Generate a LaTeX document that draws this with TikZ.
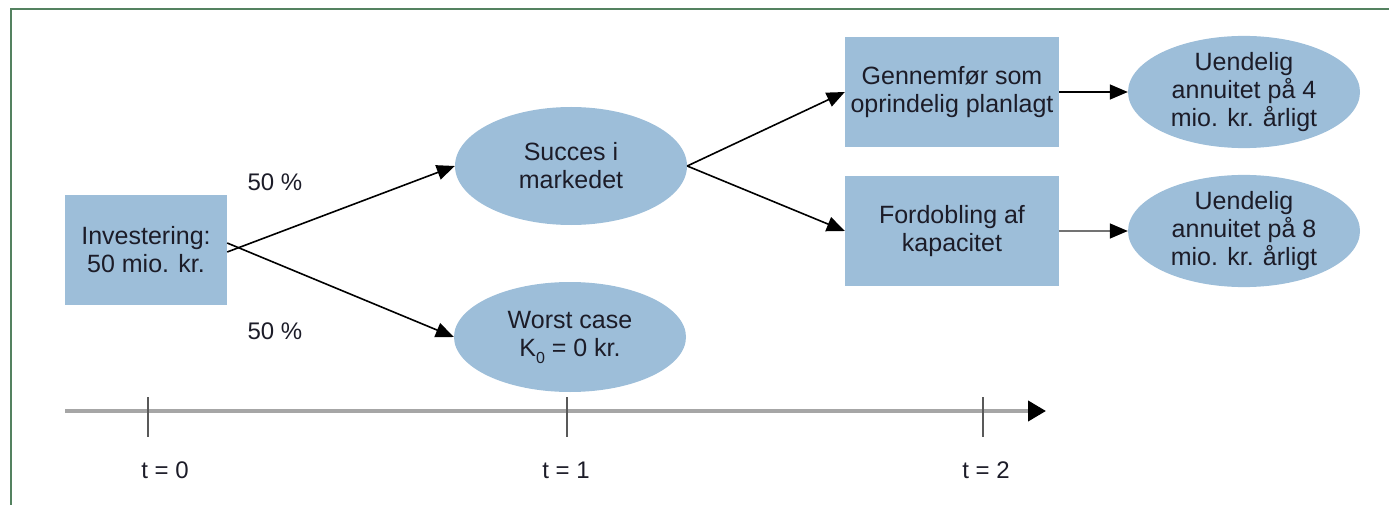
\documentclass[tikz,border=0pt]{standalone}
\usepackage{fontspec}
\setmainfont{Liberation Sans}
\usetikzlibrary{shapes.geometric,arrows.meta}
\definecolor{boxblue}{RGB}{157,190,217}
\definecolor{framegreen}{RGB}{84,130,96}
\definecolor{txt}{RGB}{28,28,40}
\definecolor{axisgrey}{RGB}{166,166,166}
\tikzset{
  lbl/.style={font=\fontsize{25}{28}\selectfont, text=txt, align=center, inner sep=0pt},
  rectbox/.style={lbl, rectangle, fill=boxblue, minimum width=#1, minimum height=110pt},
  ellbox/.style={lbl, ellipse, fill=boxblue, minimum width=232pt},
  conn/.style={line width=1.6pt, black, -{Triangle[length=18pt,width=15pt]}},
  tick/.style={line width=1.2pt, black!65},
}
\begin{document}
\begin{tikzpicture}[x=1pt,y=-1pt]
\useasboundingbox (0,0) rectangle (1389,505);
% frame
\draw[framegreen, line width=2pt] (11,506) -- (11,9) -- (1390,9);

% nodes
\node[rectbox=162pt] (inv) at (146,250) {Investering:\\ 50 mio. kr.};
\node[ellbox, minimum height=118pt] (succ) at (571,166) {Succes i\\markedet};
\node[ellbox, minimum height=110pt] (worst) at (570,337) {Worst case\\K\raisebox{-0.28em}{\fontsize{16}{16}\selectfont 0} = 0 kr.};
\node[rectbox=214pt] (genn) at (952,92) {Gennemfør som\\oprindelig planlagt};
\node[rectbox=214pt] (ford) at (952,231) {Fordobling af\\kapacitet};
\node[ellbox, minimum height=108pt] (ann4) at (1244,92) {Uendelig\\annuitet på 4\\mio. kr. årligt};
\node[ellbox, minimum height=110pt] (ann8) at (1244,231) {Uendelig\\annuitet på 8\\mio. kr. årligt};

% probability labels
\node[lbl, font=\fontsize{24}{28}\selectfont] (p1) at (275,182) {50 \%};
\node[lbl, font=\fontsize{24}{28}\selectfont] (p2) at (275,331) {50 \%};

% connectors
\draw[conn] ([yshift=-2pt]inv.east) -- (succ.west);
\draw[conn] ([yshift=7pt]inv.east) -- (worst.west);
\draw[conn] (succ.east) -- (genn.west);
\draw[conn] (succ.east) -- (ford.west);
\draw[conn] (genn.east) -- (ann4.west);
\draw[conn, draw=black!55, -{Triangle[length=18pt,width=15pt,color=black]}] (ford.east) -- (ann8.west);

% time axis
\coordinate (ax0) at (65,411);
\coordinate (ax1) at (1046,411);
\draw[axisgrey, line width=4pt, -{Triangle[length=18pt,width=20pt,color=black]}] (ax0) -- (ax1);
\coordinate (t0a) at (148,397); \coordinate (t0b) at (148,437);
\coordinate (t1a) at (567,397); \coordinate (t1b) at (567,437);
\coordinate (t2a) at (983,397); \coordinate (t2b) at (983,437);
\draw[tick] (t0a) -- (t0b);
\draw[tick] (t1a) -- (t1b);
\draw[tick] (t2a) -- (t2b);
\node[lbl, font=\fontsize{24}{28}\selectfont] (l0) at (165,470) {t = 0};
\node[lbl, font=\fontsize{24}{28}\selectfont] (l1) at (566,470) {t = 1};
\node[lbl, font=\fontsize{24}{28}\selectfont] (l2) at (986,470) {t = 2};
\end{tikzpicture}
\end{document}
